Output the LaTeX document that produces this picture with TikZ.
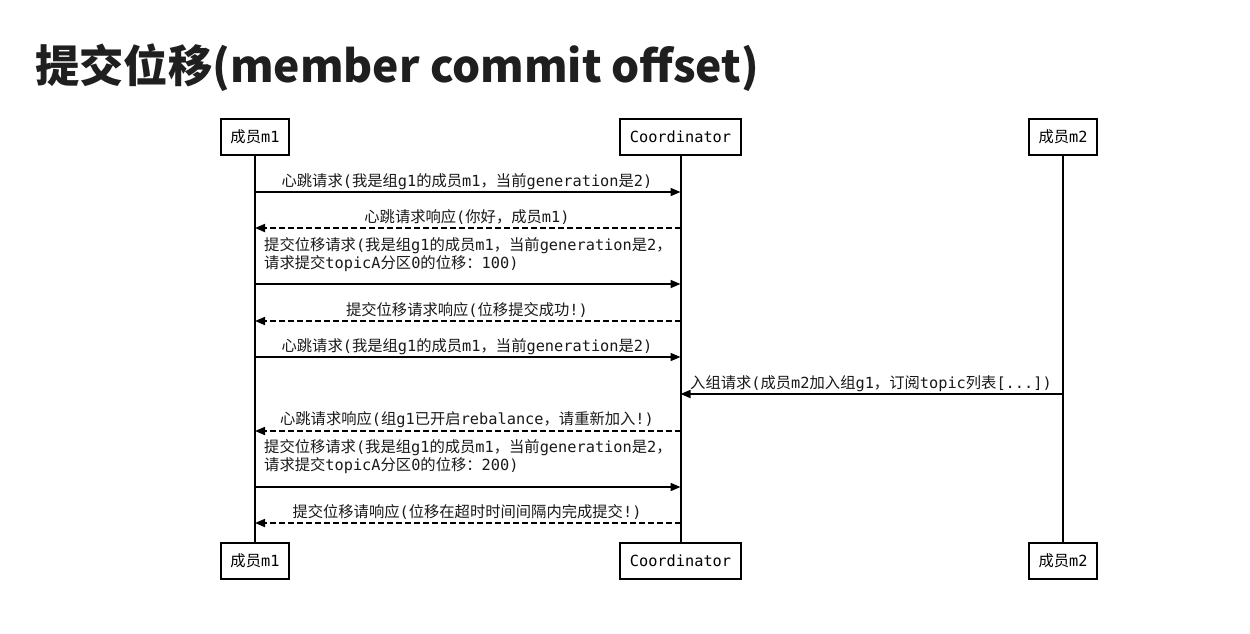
\documentclass[tikz,border=0pt]{standalone}
\usepackage{fontspec}
\usetikzlibrary{arrows.meta}
\setmainfont{DejaVu Sans Mono}
\newfontfamily\cjk{Noto Sans CJK SC}
\newfontfamily\monof{DejaVu Sans Mono}
\newfontfamily\titlefont{Noto Sans CJK SC}
\makeatletter
\def\setcjkrange#1#2{\count@=#1\relax\loop\XeTeXcharclass\count@=7\relax\advance\count@\@ne\ifnum\count@<#2\repeat}
\setcjkrange{"3000}{"3040}
\setcjkrange{"4E00}{"A000}
\setcjkrange{"FF00}{"FFF0}
\makeatother
\XeTeXinterchartoks 0 7 = {\cjk}
\XeTeXinterchartoks 4095 7 = {\cjk}
\XeTeXinterchartoks 7 0 = {\monof}
\XeTeXinterchartoks 7 4095 = {\monof}
\begin{document}
\begin{tikzpicture}[x=1pt,y=-1pt,
  mixfont/.style={font={\XeTeXinterchartokenstate=1\monof\fontsize{15.3}{19}\selectfont}},
  actor/.style={draw,line width=1.8pt,mixfont,minimum height=36pt,inner sep=2pt,text=black},
  life/.style={line width=2pt},
  msg/.style={line width=1.7pt,-{Triangle[length=10pt,width=8pt]}},
  reply/.style={msg,dash pattern=on 6pt off 3pt},
  lbl/.style={mixfont,inner sep=0pt,text=black!90}]
\useasboundingbox (0,0) rectangle (1250,633);
\fill[white] (0,0) rectangle (1250,633);
\node[anchor=base west,inner sep=0pt,text=black!88,font={\titlefont\bfseries\fontsize{44.3}{50}\selectfont}] (title) at (35,82) {提交位移(member commit offset)};
% actors
\node[actor,minimum width=68pt] (m1t) at (255,137) {成员m1};
\node[actor,minimum width=121pt] (cot) at (680.5,137) {Coordinator};
\node[actor,minimum width=68pt] (m2t) at (1063,137) {成员m2};
\node[actor,minimum width=68pt] (m1b) at (255,561) {成员m1};
\node[actor,minimum width=121pt] (cob) at (680.5,561) {Coordinator};
\node[actor,minimum width=68pt] (m2b) at (1063,561) {成员m2};
\draw[life] (m1t.south) -- (m1b.north);
\draw[life] (cot.south) -- (cob.north);
\draw[life] (m2t.south) -- (m2b.north);
% message end points
\coordinate (a1) at (255,192); \coordinate (b1) at (680.5,192);
\coordinate (a2) at (680.5,228); \coordinate (b2) at (255,228);
\coordinate (a3) at (255,284); \coordinate (b3) at (680.5,284);
\coordinate (a4) at (680.5,321); \coordinate (b4) at (255,321);
\coordinate (a5) at (255,357); \coordinate (b5) at (680.5,357);
\coordinate (a6) at (1063,394); \coordinate (b6) at (680.5,394);
\coordinate (a7) at (680.5,431); \coordinate (b7) at (255,431);
\coordinate (a8) at (255,487); \coordinate (b8) at (680.5,487);
\coordinate (a9) at (680.5,523); \coordinate (b9) at (255,523);
\draw[msg] (a1) -- (b1);
\draw[reply] (a2) -- (b2);
\draw[msg] (a3) -- (b3);
\draw[reply] (a4) -- (b4);
\draw[msg] (a5) -- (b5);
\draw[msg] (a6) -- (b6);
\draw[reply] (a7) -- (b7);
\draw[msg] (a8) -- (b8);
\draw[reply] (a9) -- (b9);
% labels
\node[lbl,anchor=base] (l1) at (467,186) {心跳请求(我是组g1的成员m1，当前generation是2)};
\node[lbl,anchor=base] (l2) at (467,222) {心跳请求响应(你好，成员m1)};
\node[lbl,anchor=base west] (l3a) at (264,250) {提交位移请求(我是组g1的成员m1，当前generation是2，};
\node[lbl,anchor=base west] (l3b) at (264,268) {请求提交topicA分区0的位移：100)};
\node[lbl,anchor=base] (l4) at (467,315) {提交位移请求响应(位移提交成功!)};
\node[lbl,anchor=base] (l5) at (467,351) {心跳请求(我是组g1的成员m1，当前generation是2)};
\node[lbl,anchor=base] (l6) at (871,388) {入组请求(成员m2加入组g1，订阅topic列表[...])};
\node[lbl,anchor=base] (l7) at (467,424) {心跳请求响应(组g1已开启rebalance，请重新加入!)};
\node[lbl,anchor=base west] (l8a) at (264,452) {提交位移请求(我是组g1的成员m1，当前generation是2，};
\node[lbl,anchor=base west] (l8b) at (264,470) {请求提交topicA分区0的位移：200)};
\node[lbl,anchor=base] (l9) at (467,517) {提交位移请响应(位移在超时时间间隔内完成提交!)};
\end{tikzpicture}
\end{document}
